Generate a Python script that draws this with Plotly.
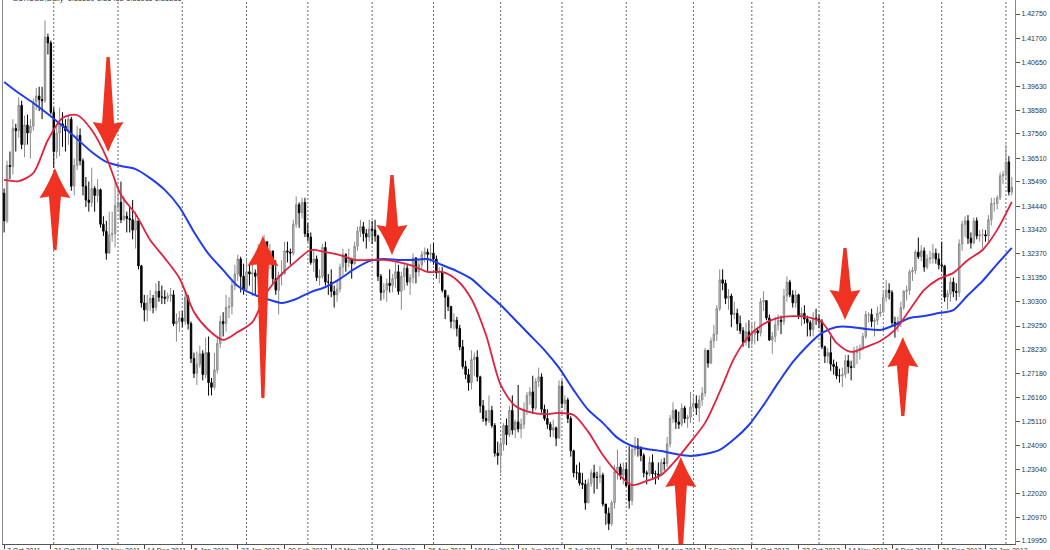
import pandas as pd
import plotly.graph_objects as go

# ---------------- data (EURUSD, Daily) ----------------
first_open = 1.3500

close = [
    # Oct 2011
    1.3380, 1.3620, 1.3615, 1.3780, 1.3770, 1.3880, 1.3710, 1.3795, 1.3760, 1.3790, 1.3895, 1.3920, 1.3905, 1.3900, 1.4175, 1.4150, 1.3850,
    # Nov 2011
    1.3680, 1.3760, 1.3800, 1.3790, 1.3770, 1.3820, 1.3530, 1.3620, 1.3750, 1.3640, 1.3530, 1.3470, 1.3460, 1.3520, 1.3490, 1.3515, 1.3365, 1.3335, 1.3240, 1.3320, 1.3325, 1.3445,
    # Dec 2011
    1.3460, 1.3385, 1.3400, 1.3390, 1.3385, 1.3340, 1.3380, 1.3185, 1.3025, 1.2995, 1.3025, 1.3045, 1.3005, 1.3075, 1.3050, 1.3050, 1.3045, 1.3055, 1.3060, 1.2935, 1.2945, 1.2960,
    # Jan 2012
    1.2945, 1.3050, 1.2935, 1.2785, 1.2720, 1.2760, 1.2805, 1.2715, 1.2810, 1.2680, 1.2660, 1.2735, 1.2850, 1.2945, 1.2935, 1.3005, 1.3010, 1.3100, 1.3150, 1.3215, 1.3140, 1.3085,
    # Feb 2012
    1.3160, 1.3150, 1.3155, 1.3140, 1.3260, 1.3265, 1.3290, 1.3195, 1.3250, 1.3130, 1.3080, 1.3145, 1.3150, 1.3250, 1.3245, 1.3240, 1.3365, 1.3450, 1.3415, 1.3460, 1.3325,
    # Mar 2012
    1.3310, 1.3200, 1.3215, 1.3135, 1.3140, 1.3265, 1.3115, 1.3115, 1.3075, 1.3060, 1.3085, 1.3180, 1.3235, 1.3200, 1.3215, 1.3195, 1.3270, 1.3335, 1.3355, 1.3325, 1.3310, 1.3345,
    # Apr 2012
    1.3340, 1.3315, 1.3140, 1.3070, 1.3080, 1.3110, 1.3100, 1.3130, 1.3160, 1.3075, 1.3140, 1.3175, 1.3115, 1.3135, 1.3220, 1.3160, 1.3190, 1.3235, 1.3245, 1.3235, 1.3240,
    # May 2012
    1.3215, 1.3155, 1.3160, 1.3080, 1.3050, 1.3010, 1.2945, 1.2950, 1.2915, 1.2835, 1.2750, 1.2715, 1.2680, 1.2780, 1.2790, 1.2705, 1.2580, 1.2525, 1.2515, 1.2560, 1.2495, 1.2375, 1.2365,
    # Jun 2012
    1.2415, 1.2495, 1.2455, 1.2560, 1.2475, 1.2510, 1.2480, 1.2500, 1.2565, 1.2625, 1.2640, 1.2570, 1.2685, 1.2705, 1.2565, 1.2525, 1.2500, 1.2475, 1.2485, 1.2440, 1.2665,
    # Jul 2012
    1.2590, 1.2605, 1.2525, 1.2385, 1.2290, 1.2290, 1.2245, 1.2240, 1.2160, 1.2245, 1.2290, 1.2270, 1.2270, 1.2280, 1.2155, 1.2115, 1.2070, 1.2160, 1.2295, 1.2315, 1.2280, 1.2305,
    # Aug 2012
    1.2235, 1.2170, 1.2390, 1.2405, 1.2395, 1.2365, 1.2290, 1.2285, 1.2335, 1.2285, 1.2285, 1.2280, 1.2335, 1.2330, 1.2415, 1.2525, 1.2560, 1.2510, 1.2500, 1.2570, 1.2525, 1.2530, 1.2575,
    # Sep 2012
    1.2590, 1.2570, 1.2605, 1.2635, 1.2820, 1.2765, 1.2860, 1.2890, 1.3000, 1.3125, 1.3110, 1.3045, 1.3055, 1.2975, 1.2980, 1.2935, 1.2905, 1.2855, 1.2900, 1.2860,
    # Oct 2012
    1.2890, 1.2905, 1.2895, 1.3030, 1.3035, 1.2960, 1.2865, 1.2880, 1.2930, 1.2950, 1.2945, 1.3055, 1.3115, 1.3060, 1.3025, 1.3060, 1.2970, 1.2980, 1.2955, 1.2940, 1.2910, 1.2960, 1.2955,
    # Nov 2012
    1.2945, 1.2835, 1.2795, 1.2810, 1.2760, 1.2750, 1.2710, 1.2710, 1.2715, 1.2775, 1.2750, 1.2745, 1.2810, 1.2820, 1.2830, 1.2880, 1.2975, 1.2975, 1.2945, 1.2950, 1.2980, 1.2985,
    # Dec 2012
    1.3050, 1.3080, 1.3070, 1.2940, 1.2925, 1.2945, 1.3005, 1.3075, 1.3080, 1.3160, 1.3165, 1.3245, 1.3225, 1.3250, 1.3180, 1.3215, 1.3220, 1.3240, 1.3215, 1.3190,
    # Jan 2013
    1.3185, 1.3050, 1.3065, 1.3115, 1.3075, 1.3070, 1.3280, 1.3365, 1.3380, 1.3305, 1.3285, 1.3380, 1.3315, 1.3320, 1.3320, 1.3315, 1.3385, 1.3455, 1.3455, 1.3480, 1.3575, 1.3580,
    # Feb 2013
    1.3635, 1.3505, 1.3525,
]

high = [
    1.3520, 1.3640, 1.3680, 1.3820, 1.3800, 1.3915, 1.3900, 1.3835, 1.3840, 1.3820, 1.3910, 1.3955, 1.3960, 1.3960, 1.4247, 1.4190, 1.4160,
    1.3870, 1.3800, 1.3870, 1.3850, 1.3820, 1.3840, 1.3830, 1.3650, 1.3790, 1.3780, 1.3650, 1.3570, 1.3550, 1.3610, 1.3530, 1.3560, 1.3520, 1.3400, 1.3380, 1.3420, 1.3420, 1.3550,
    1.3510, 1.3550, 1.3490, 1.3420, 1.3440, 1.3470, 1.3420, 1.3390, 1.3190, 1.3060, 1.3060, 1.3080, 1.3060, 1.3110, 1.3120, 1.3100, 1.3080, 1.3070, 1.3090, 1.3080, 1.2980, 1.2990,
    1.2990, 1.3080, 1.3060, 1.2945, 1.2810, 1.2815, 1.2840, 1.2820, 1.2875, 1.2880, 1.2700, 1.2810, 1.2875, 1.2970, 1.2985, 1.3060, 1.3050, 1.3120, 1.3190, 1.3234, 1.3225, 1.3195,
    1.3215, 1.3190, 1.3200, 1.3170, 1.3280, 1.3290, 1.3320, 1.3290, 1.3280, 1.3250, 1.3210, 1.3160, 1.3210, 1.3290, 1.3290, 1.3260, 1.3385, 1.3486, 1.3460, 1.3480, 1.3480,
    1.3370, 1.3330, 1.3250, 1.3230, 1.3170, 1.3280, 1.3290, 1.3150, 1.3170, 1.3100, 1.3120, 1.3195, 1.3260, 1.3240, 1.3260, 1.3220, 1.3290, 1.3355, 1.3385, 1.3375, 1.3345, 1.3385,
    1.3380, 1.3385, 1.3320, 1.3150, 1.3110, 1.3130, 1.3170, 1.3150, 1.3200, 1.3190, 1.3160, 1.3200, 1.3190, 1.3150, 1.3240, 1.3220, 1.3210, 1.3250, 1.3265, 1.3260, 1.3280,
    1.3283, 1.3230, 1.3180, 1.3180, 1.3080, 1.3060, 1.3010, 1.2980, 1.2965, 1.2930, 1.2865, 1.2775, 1.2740, 1.2820, 1.2810, 1.2820, 1.2710, 1.2605, 1.2560, 1.2625, 1.2580, 1.2505, 1.2425,
    1.2440, 1.2505, 1.2525, 1.2580, 1.2625, 1.2520, 1.2670, 1.2525, 1.2595, 1.2640, 1.2660, 1.2710, 1.2700, 1.2745, 1.2720, 1.2585, 1.2565, 1.2510, 1.2520, 1.2490, 1.2690,
    1.2690, 1.2625, 1.2615, 1.2535, 1.2390, 1.2325, 1.2335, 1.2290, 1.2260, 1.2265, 1.2305, 1.2325, 1.2295, 1.2320, 1.2290, 1.2145, 1.2140, 1.2170, 1.2325, 1.2390, 1.2330, 1.2335,
    1.2335, 1.2405, 1.2405, 1.2445, 1.2440, 1.2405, 1.2375, 1.2300, 1.2360, 1.2370, 1.2300, 1.2335, 1.2350, 1.2355, 1.2445, 1.2540, 1.2595, 1.2565, 1.2555, 1.2590, 1.2580, 1.2540, 1.2640,
    1.2620, 1.2625, 1.2625, 1.2660, 1.2830, 1.2820, 1.2875, 1.2930, 1.3015, 1.3170, 1.3170, 1.3125, 1.3085, 1.3065, 1.3030, 1.3000, 1.2970, 1.2920, 1.2940, 1.2950,
    1.2935, 1.2945, 1.2920, 1.3045, 1.3075, 1.3020, 1.2975, 1.2900, 1.2965, 1.2975, 1.2970, 1.3085, 1.3140, 1.3125, 1.3080, 1.3080, 1.3065, 1.3005, 1.3015, 1.2970, 1.2950, 1.2985, 1.3000,
    1.2975, 1.2955, 1.2840, 1.2830, 1.2880, 1.2780, 1.2770, 1.2740, 1.2745, 1.2800, 1.2800, 1.2775, 1.2835, 1.2840, 1.2845, 1.2895, 1.2990, 1.2985, 1.3000, 1.2960, 1.3010, 1.3020,
    1.3075, 1.3125, 1.3110, 1.3080, 1.2965, 1.2965, 1.3030, 1.3080, 1.3100, 1.3170, 1.3180, 1.3255, 1.3308, 1.3275, 1.3265, 1.3235, 1.3250, 1.3280, 1.3260, 1.3240,
    1.3290, 1.3190, 1.3080, 1.3135, 1.3135, 1.3110, 1.3300, 1.3380, 1.3400, 1.3405, 1.3330, 1.3395, 1.3395, 1.3340, 1.3345, 1.3340, 1.3405, 1.3480, 1.3480, 1.3490, 1.3590, 1.3595,
    1.3710, 1.3660, 1.3570,
]

low = [
    1.3330, 1.3370, 1.3560, 1.3580, 1.3680, 1.3740, 1.3690, 1.3655, 1.3710, 1.3650, 1.3770, 1.3860, 1.3855, 1.3820, 1.3890, 1.4100, 1.3840,
    1.3610, 1.3650, 1.3660, 1.3700, 1.3680, 1.3710, 1.3510, 1.3490, 1.3600, 1.3620, 1.3490, 1.3440, 1.3420, 1.3440, 1.3420, 1.3460, 1.3350, 1.3315, 1.3212, 1.3290, 1.3290, 1.3265,
    1.3420, 1.3370, 1.3380, 1.3330, 1.3330, 1.3300, 1.3260, 1.3170, 1.3005, 1.2945, 1.2945, 1.2990, 1.2980, 1.2990, 1.3030, 1.3020, 1.3020, 1.3030, 1.3030, 1.2925, 1.2858, 1.2900,
    1.2920, 1.2930, 1.2910, 1.2765, 1.2700, 1.2670, 1.2745, 1.2690, 1.2700, 1.2624, 1.2625, 1.2650, 1.2720, 1.2830, 1.2880, 1.2900, 1.2960, 1.2975, 1.3080, 1.3120, 1.3070, 1.3060,
    1.3070, 1.3100, 1.3055, 1.3060, 1.3130, 1.3200, 1.3180, 1.3180, 1.3170, 1.3110, 1.3060, 1.2975, 1.3100, 1.3170, 1.3200, 1.3190, 1.3230, 1.3350, 1.3350, 1.3390, 1.3310,
    1.3290, 1.3190, 1.3160, 1.3120, 1.3100, 1.3130, 1.3100, 1.3060, 1.3050, 1.3005, 1.3030, 1.3070, 1.3140, 1.3160, 1.3180, 1.3130, 1.3190, 1.3250, 1.3310, 1.3290, 1.3260, 1.3290,
    1.3280, 1.3290, 1.3120, 1.3035, 1.3040, 1.3030, 1.3070, 1.3070, 1.3090, 1.3060, 1.2995, 1.3080, 1.3100, 1.3060, 1.3110, 1.3110, 1.3140, 1.3170, 1.3200, 1.3160, 1.3200,
    1.3190, 1.3130, 1.3110, 1.3070, 1.2955, 1.2990, 1.2915, 1.2910, 1.2880, 1.2820, 1.2740, 1.2695, 1.2645, 1.2650, 1.2710, 1.2685, 1.2550, 1.2510, 1.2495, 1.2505, 1.2485, 1.2360, 1.2325,
    1.2288, 1.2385, 1.2410, 1.2445, 1.2455, 1.2440, 1.2465, 1.2440, 1.2480, 1.2540, 1.2585, 1.2545, 1.2560, 1.2660, 1.2550, 1.2515, 1.2480, 1.2445, 1.2445, 1.2405, 1.2440,
    1.2570, 1.2560, 1.2505, 1.2360, 1.2270, 1.2260, 1.2235, 1.2220, 1.2130, 1.2160, 1.2230, 1.2200, 1.2220, 1.2245, 1.2145, 1.2065, 1.2042, 1.2060, 1.2135, 1.2260, 1.2260, 1.2240,
    1.2230, 1.2135, 1.2150, 1.2365, 1.2360, 1.2340, 1.2270, 1.2240, 1.2275, 1.2265, 1.2240, 1.2260, 1.2280, 1.2300, 1.2315, 1.2400, 1.2505, 1.2480, 1.2480, 1.2490, 1.2505, 1.2485, 1.2505,
    1.2560, 1.2540, 1.2510, 1.2580, 1.2620, 1.2745, 1.2760, 1.2830, 1.2860, 1.2990, 1.3080, 1.3020, 1.2995, 1.2920, 1.2955, 1.2905, 1.2890, 1.2835, 1.2840, 1.2830,
    1.2840, 1.2845, 1.2860, 1.2880, 1.2990, 1.2950, 1.2860, 1.2805, 1.2855, 1.2905, 1.2890, 1.2930, 1.3030, 1.3050, 1.3005, 1.3005, 1.2955, 1.2925, 1.2935, 1.2880, 1.2880, 1.2880, 1.2930,
    1.2915, 1.2825, 1.2765, 1.2765, 1.2730, 1.2715, 1.2695, 1.2680, 1.2661, 1.2700, 1.2720, 1.2690, 1.2745, 1.2760, 1.2780, 1.2820, 1.2870, 1.2940, 1.2920, 1.2880, 1.2930, 1.2965,
    1.2985, 1.3030, 1.3040, 1.2925, 1.2875, 1.2900, 1.2920, 1.2995, 1.3035, 1.3060, 1.3120, 1.3150, 1.3215, 1.3205, 1.3160, 1.3170, 1.3195, 1.3195, 1.3195, 1.3170,
    1.3160, 1.3030, 1.2996, 1.3030, 1.3050, 1.3035, 1.3050, 1.3250, 1.3310, 1.3280, 1.3260, 1.3280, 1.3300, 1.3290, 1.3260, 1.3290, 1.3280, 1.3360, 1.3420, 1.3430, 1.3470, 1.3540,
    1.3555, 1.3490, 1.3490,
]

# moving averages read every 5th bar
ma_bars = list(range(0, 346, 5))
ma_red = [
    1.3557, 1.3552, 1.3587, 1.3730, 1.3825, 1.3838, 1.3773, 1.3656, 1.3492, 1.3410,
    1.3297, 1.3219, 1.3133, 1.2986, 1.2908, 1.2865, 1.2899, 1.2942, 1.3072, 1.3150,
    1.3206, 1.3254, 1.3245, 1.3232, 1.3211, 1.3211, 1.3211, 1.3202, 1.3185, 1.3159,
    1.3159, 1.3124, 1.3042, 1.2886, 1.2670, 1.2579, 1.2553, 1.2544, 1.2549, 1.2540,
    1.2467, 1.2367, 1.2289, 1.2237, 1.2255, 1.2281, 1.2345, 1.2423, 1.2506, 1.2640,
    1.2787, 1.2882, 1.2934, 1.2960, 1.2968, 1.2964, 1.2942, 1.2852, 1.2813, 1.2834,
    1.2860, 1.2908, 1.2994, 1.3081, 1.3129, 1.3155, 1.3211, 1.3254, 1.3341, 1.3462,
]
ma_blue = [
    1.3981, 1.3933, 1.3890, 1.3842, 1.3790, 1.3734, 1.3678, 1.3635, 1.3617, 1.3604,
    1.3565, 1.3514, 1.3440, 1.3332, 1.3237, 1.3167, 1.3098, 1.3064, 1.3042, 1.3025,
    1.3042, 1.3072, 1.3094, 1.3129, 1.3172, 1.3206, 1.3215, 1.3211, 1.3211, 1.3215,
    1.3189, 1.3163, 1.3129, 1.3072, 1.3016, 1.2951, 1.2886, 1.2821, 1.2744, 1.2648,
    1.2562, 1.2506, 1.2441, 1.2406, 1.2393, 1.2384, 1.2371, 1.2363, 1.2371, 1.2389,
    1.2436, 1.2497, 1.2583, 1.2679, 1.2769, 1.2839, 1.2895, 1.2921, 1.2921, 1.2912,
    1.2908, 1.2930, 1.2960, 1.2968, 1.2981, 1.2994, 1.3059, 1.3120, 1.3193, 1.3263,
]

price_ticks = [1.42750, 1.41700, 1.40650, 1.39630, 1.38580, 1.37560, 1.36510, 1.35490,
               1.34440, 1.33420, 1.32370, 1.31350, 1.30300, 1.29250, 1.28230, 1.27180,
               1.26160, 1.25110, 1.24090, 1.23040, 1.22020, 1.20970, 1.19950]

# signal arrows: bar position, price at the tip, price at the tail end
arrow_bar = [17.4, 35.6, 88.6, 132.8, 231.7, 287.9, 307.7]
arrow_tip = [1.3609, 1.3678, 1.3315, 1.3232, 1.2358, 1.2951, 1.2878]
arrow_tail = [1.3254, 1.4089, 1.2614, 1.3578, 1.1934, 1.3263, 1.2536]

title_text = "EURUSD,Daily  1.35239 1.35452 1.35011 1.35255"

# ---------------- layout constants ----------------
W, H = 1050, 550
M_L, M_R, M_T, M_B = 3, 35, 0, 6
X_RANGE = [-0.38, 346.1]
Y_RANGE = [1.19820, 1.43356]
plot_w = W - M_L - M_R
plot_h = H - M_T - M_B
bar_per_px = (X_RANGE[1] - X_RANGE[0]) / plot_w
price_per_px = (Y_RANGE[1] - Y_RANGE[0]) / plot_h

# ---------------- derived calendar ----------------
n = len(close)
days = pd.bdate_range("2011-10-07", "2013-02-08")
days = days[~days.isin(pd.to_datetime(["2012-12-25", "2013-01-01"]))][:n]
xs = list(range(n))
opens = [first_open] + close[:-1]

grid_bars = [i for i in range(1, n) if days[i].month != days[i - 1].month]
tick_bars = list(range(0, n, 16))
tick_text = [f"{days[i].day} {days[i].strftime('%b')} {days[i].year}" for i in tick_bars]

fig = go.Figure()
fig.add_trace(go.Candlestick(
    x=xs, open=opens, high=high, low=low, close=close,
    increasing=dict(line=dict(color="#8a8a8a", width=1), fillcolor="#c8c8c8"),
    decreasing=dict(line=dict(color="#000000", width=1), fillcolor="#000000"),
    whiskerwidth=0, showlegend=False, hoverinfo="skip",
))
fig.add_trace(go.Scatter(
    x=ma_bars, y=ma_blue, mode="lines", line=dict(color="#1f3cf0", width=2, shape="spline", smoothing=0.8),
    showlegend=False, hoverinfo="skip",
))
fig.add_trace(go.Scatter(
    x=ma_bars, y=ma_red, mode="lines", line=dict(color="#e0223f", width=1.8, shape="spline", smoothing=0.8),
    showlegend=False, hoverinfo="skip",
))

shapes = []
for g in grid_bars:
    shapes.append(dict(type="line", xref="x", yref="paper", x0=g, x1=g, y0=0, y1=1,
                       line=dict(color="#6a6a6a", width=1, dash="2px,2px"), layer="below"))

# arrow geometry (pixels -> axis units)
HL = 30 * price_per_px      # head length
HW = 15.5 * bar_per_px      # head half width
SW1 = 6.0 * bar_per_px      # shaft half width near head
SW2 = 1.6 * bar_per_px      # shaft half width at tail
for c, tip, tail in zip(arrow_bar, arrow_tip, arrow_tail):
    s = 1 if tip > tail else -1
    hb = tip - s * HL
    jy = hb + s * 0.05 * HL
    path = (f"M {c},{tip} "
            f"Q {c - 0.42 * HW},{tip - s * 0.55 * HL} {c - HW},{hb} "
            f"L {c - SW1},{jy} L {c - SW2},{tail} L {c + SW2},{tail} L {c + SW1},{jy} "
            f"L {c + HW},{hb} Q {c + 0.42 * HW},{tip - s * 0.55 * HL} {c},{tip} Z")
    shapes.append(dict(type="path", xref="x", yref="y", path=path,
                       fillcolor="#ef3222", line=dict(width=0), layer="above"))

annotations = []
for b, t in zip(tick_bars, tick_text):
    annotations.append(dict(x=b, xref="x", y=0, yref="paper", text=t, showarrow=False,
                            xanchor="left", yanchor="top", xshift=1, yshift=-1,
                            font=dict(family="Liberation Sans", size=7, color="#333333")))
annotations.append(dict(x=0.008, xref="paper", y=1, yref="paper", text=title_text, showarrow=False,
                        xanchor="left", yanchor="bottom", yshift=-5,
                        font=dict(family="Liberation Sans", size=7.5, color="#333333")))

fig.update_layout(
    width=W, height=H,
    margin=dict(l=M_L, r=M_R, t=M_T, b=M_B),
    paper_bgcolor="white", plot_bgcolor="white",
    showlegend=False, hovermode=False,
    shapes=shapes, annotations=annotations,
    xaxis=dict(range=X_RANGE, showgrid=False, zeroline=False, rangeslider=dict(visible=False),
               showline=True, linecolor="#555555", linewidth=1,
               tickmode="array", tickvals=tick_bars, ticks="outside", ticklen=4,
               tickcolor="#444444", showticklabels=False, fixedrange=True),
    yaxis=dict(range=Y_RANGE, side="right", showgrid=False, zeroline=False,
               showline=True, mirror=True, linecolor="#888888", linewidth=1,
               tickmode="array", tickvals=price_ticks, ticktext=[f"{v:.5f}" for v in price_ticks],
               ticks="outside", ticklen=4, tickcolor="#555555",
               tickfont=dict(family="Liberation Sans", size=7, color="#333333"),
               fixedrange=True),
)

fig.write_html("out.html", config={"displayModeBar": False},
               post_script="document.body.style.margin='0px';document.body.style.overflow='hidden';")
